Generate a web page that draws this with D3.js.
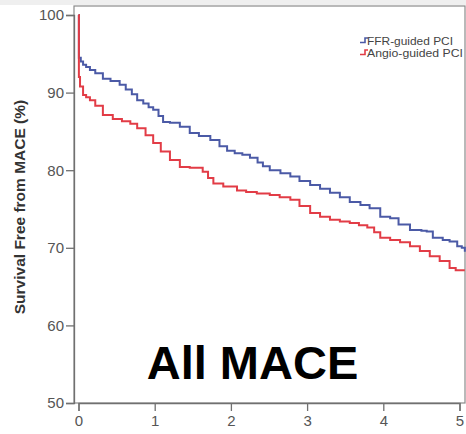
<!DOCTYPE html>
<html><head><meta charset="utf-8">
<script src="https://cdn.jsdelivr.net/npm/d3@7"></script>
<style>body{margin:0;background:#fff}svg{display:block}</style>
</head><body>
<script>
const xTicks = [0,1,2,3,4,5];
const yTicks = [50,60,70,80,90,100];
const seriesNames = ["FFR-guided PCI","Angio-guided PCI"];
const ffrTime = [0,0.005,0.03,0.06,0.1,0.15,0.22,0.32,0.42,0.54,0.62,0.7,0.77,0.85,0.92,0.98,1.05,1.11,1.2,1.33,1.46,1.58,1.73,1.85,1.95,2.05,2.15,2.25,2.35,2.42,2.51,2.65,2.78,2.9,3.04,3.17,3.3,3.43,3.56,3.7,3.82,3.96,4.09,4.2,4.35,4.5,4.57,4.65,4.78,4.87,4.97,5.03,5.07];
const ffrSurv = [100,94.5,94.0,93.6,93.3,92.9,92.5,91.8,91.5,91.0,90.4,89.8,89.0,88.6,88.1,87.8,87.0,86.2,86.1,85.6,84.8,84.4,83.9,83.1,82.5,82.2,82.0,81.6,81.0,80.5,80.0,79.6,79.2,78.6,78.1,77.6,77.1,76.5,75.9,75.5,75.1,74.0,73.8,73.0,72.3,72.2,72.1,71.3,71.0,70.8,70.2,70.0,69.5];
const angioTime = [0,0.005,0.02,0.06,0.1,0.15,0.22,0.32,0.45,0.57,0.68,0.77,0.88,0.98,1.08,1.2,1.33,1.46,1.63,1.7,1.77,1.9,2.08,2.2,2.34,2.51,2.64,2.78,2.9,3.04,3.17,3.3,3.43,3.56,3.68,3.79,3.88,3.96,4.09,4.22,4.35,4.48,4.61,4.74,4.87,4.95,5.07];
const angioSurv = [100,92.0,90.8,89.7,89.4,89.0,88.3,87.1,86.6,86.3,86.0,85.4,84.5,83.5,82.4,81.3,80.4,80.3,79.8,79.0,78.3,77.9,77.4,77.2,77.0,76.8,76.5,76.2,75.4,74.5,74.0,73.6,73.4,73.2,72.9,72.6,72.0,71.3,71.0,70.7,70.2,69.6,68.9,68.3,67.4,67.1,67.1];
const colors = ["#4b5aa6","#e23c46"];

const W=466,H=434;
const font="Liberation Sans, Arial, sans-serif";
const svg=d3.select("body").append("svg").attr("width",W).attr("height",H);
svg.append("rect").attr("width",W).attr("height",5).attr("fill","#efefef");

const x=d3.scaleLinear().domain([0,5]).range([78.5,459.5]);
const y=d3.scaleLinear().domain([50,100]).range([403,15]);
const frameL=74, frameR=465, frameT=6, frameB=403;

svg.append("rect").attr("x",frameL).attr("y",frameT).attr("width",frameR-frameL).attr("height",frameB-frameT)
  .attr("fill","none").attr("stroke","#8a8a8a").attr("stroke-width",1.2);

const yAxis=svg.append("g").attr("transform",`translate(${frameL},0)`)
  .call(d3.axisLeft(y).tickValues(yTicks).tickFormat(d3.format("d")).tickSize(8).tickPadding(2));
const xAxis=svg.append("g").attr("transform",`translate(0,${frameB})`)
  .call(d3.axisBottom(x).tickValues(xTicks).tickFormat(d3.format("d")).tickSize(8).tickPadding(4));
[yAxis,xAxis].forEach(g=>{
  g.select(".domain").attr("stroke","#707070").attr("stroke-width",1.3);
  g.selectAll(".tick line").attr("stroke","#707070").attr("stroke-width",1.3);
  g.selectAll(".tick text").attr("fill","#555").attr("font-family",font).attr("font-size",15);
});

const series=[ffrTime.map((t,i)=>[t,ffrSurv[i]]), angioTime.map((t,i)=>[t,angioSurv[i]])];
const line=d3.line().x(d=>x(d[0])).y(d=>y(d[1])).curve(d3.curveStepAfter);
series.forEach((s,i)=>{
  svg.append("path").attr("d",line(s)).attr("fill","none").attr("stroke",colors[i]).attr("stroke-width",2);
});

svg.append("text").attr("transform","translate(25,207) rotate(-90)").attr("text-anchor","middle")
  .attr("font-family",font).attr("font-weight","bold").attr("font-size",15.5)
  .attr("fill","#333").text("Survival Free from MACE (%)");

svg.append("text").attr("x",252.5).attr("y",379).attr("text-anchor","middle")
  .attr("font-family",font).attr("font-weight","bold").attr("font-size",47)
  .attr("fill","#000").text("All MACE");

// legend
const lg=svg.append("g");
const lgW=[86,96];
seriesNames.forEach((n,i)=>{
  const cy=41+i*12;
  lg.append("path").attr("d",`M360,${cy+1.5}H365V${cy-3}H368`).attr("fill","none").attr("stroke",colors[i]).attr("stroke-width",1.6);
  lg.append("text").attr("x",367).attr("y",cy+3.5).attr("font-family",font)
    .attr("font-size",10.5).attr("fill","#444").attr("textLength",lgW[i]).attr("lengthAdjust","spacingAndGlyphs").text(n);
});
</script>
</body></html>
